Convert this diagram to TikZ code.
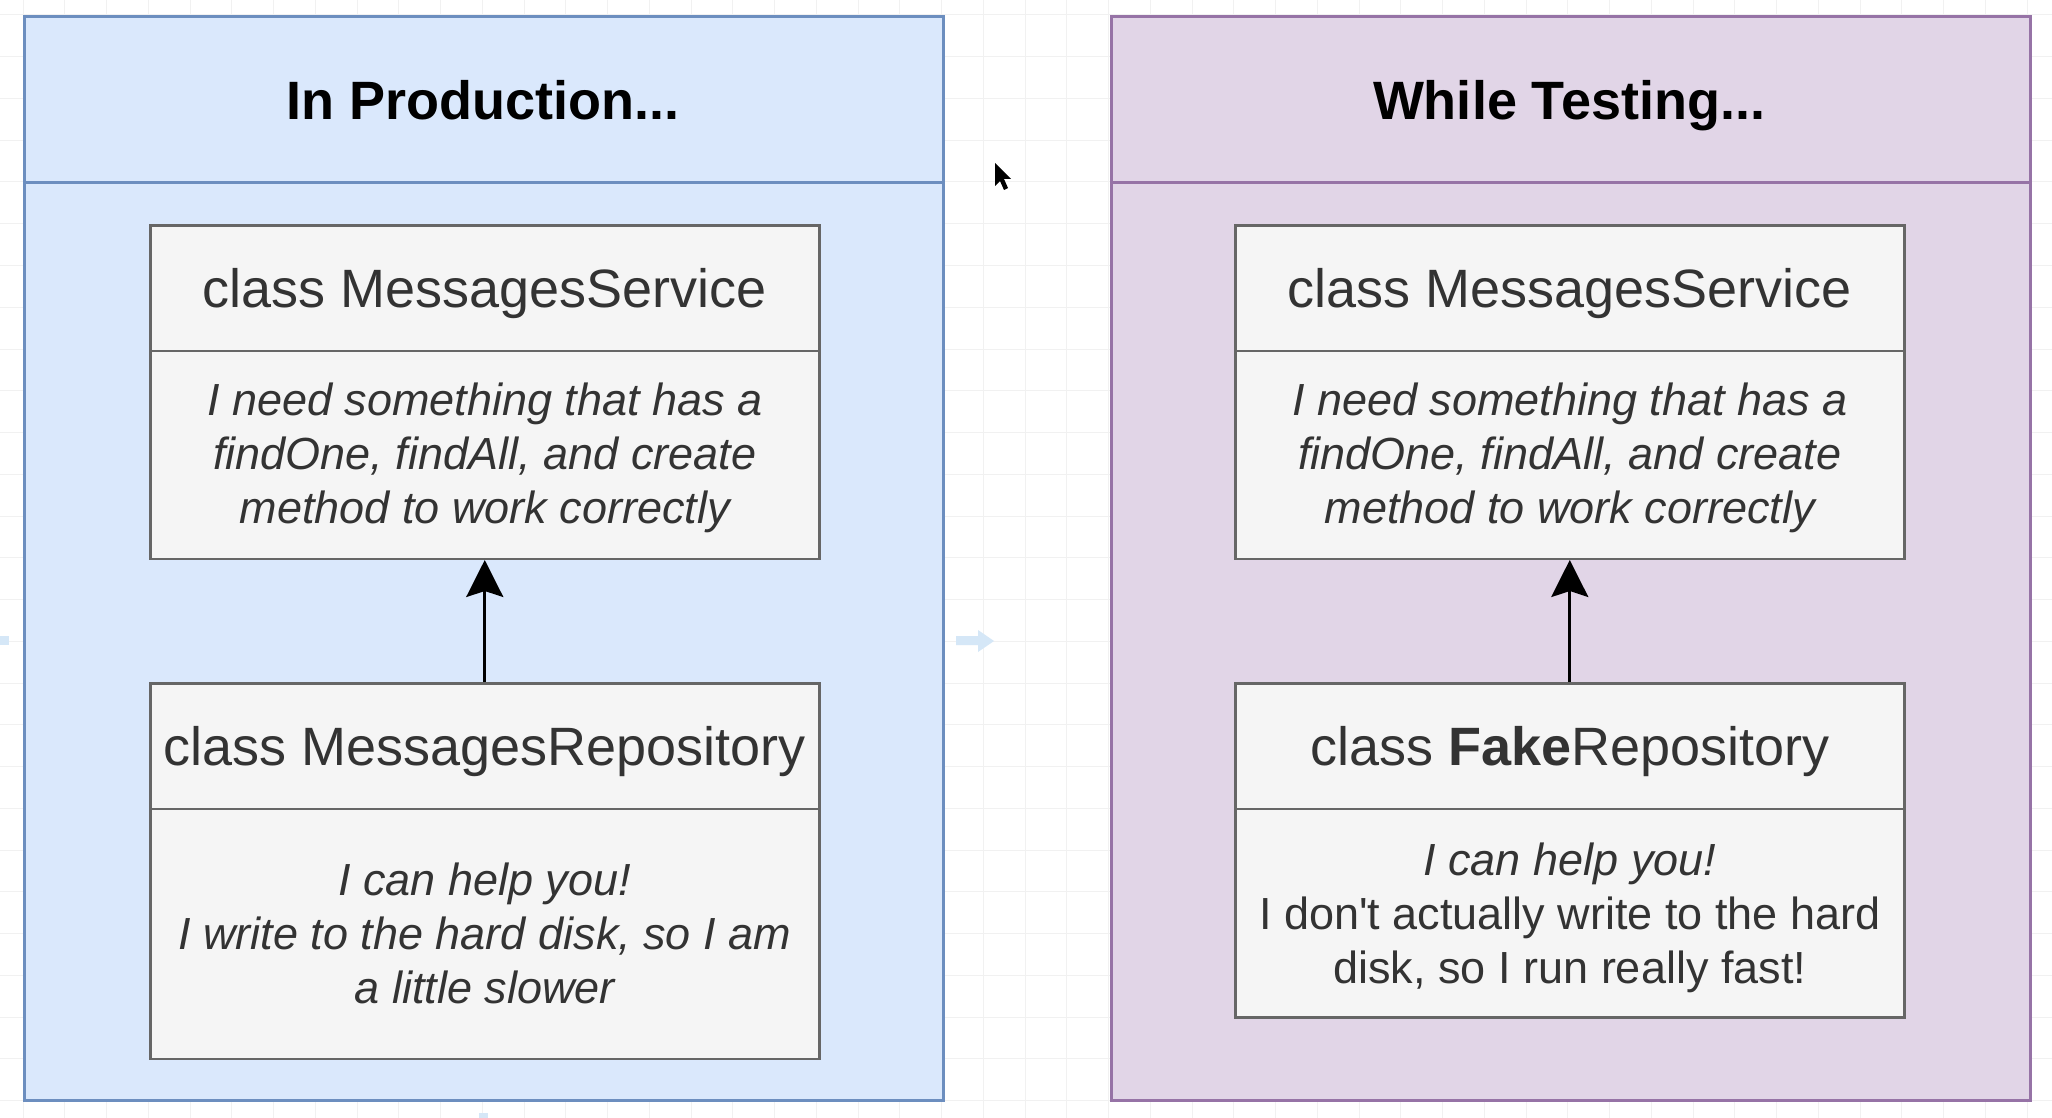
\documentclass[tikz,border=0pt]{standalone}
\usepackage{fontspec}
\setmainfont{Liberation Sans}[Ligatures=TeXOff]
\usetikzlibrary{arrows.meta}
\definecolor{blueF}{HTML}{DAE8FC}
\definecolor{blueS}{HTML}{6C8EBF}
\definecolor{purpF}{HTML}{E1D5E7}
\definecolor{purpS}{HTML}{9673A6}
\definecolor{boxF}{HTML}{F5F5F5}
\definecolor{boxS}{HTML}{666666}
\definecolor{boxT}{HTML}{333333}
\definecolor{gridC}{HTML}{F1F1F1}
\definecolor{hoverC}{HTML}{D5E7F7}
\tikzset{
  panelbox/.style={rectangle, anchor=north west, inner sep=0pt, line width=2.8pt},
  bluepanel/.style={panelbox, draw=blueS, fill=blueF},
  purppanel/.style={panelbox, draw=purpS, fill=purpF},
  paneltitle/.style={font=\fontsize{54}{64}\selectfont\bfseries, text=black, anchor=base},
  classbox/.style={rectangle, anchor=north west, inner sep=0pt, draw=boxS, fill=boxF,
     line width=2.5pt, minimum width=669pt, text=boxT, align=center},
  classtitle/.style={classbox, minimum height=125.5pt, font=\fontsize{54}{64}\selectfont,
     text height=39pt, text depth=0pt},
  classbody/.style={classbox, font=\fontsize{45}{54}\selectfont},
  dep/.style={line width=3pt, draw=black, -{Stealth[length=37pt,width=37pt,inset=6pt]}},
}
\begin{document}
\begin{tikzpicture}[x=1pt,y=-1pt]
\useasboundingbox (0,0) rectangle (2052,1118);
\fill[white] (0,0) rectangle (2052,1118);
% faint canvas grid
\foreach \k in {-1,...,49} {\draw[gridC, line width=1pt] ({23+41.75*\k},0) -- ({23+41.75*\k},1118);}
\foreach \k in {-1,...,26} {\draw[gridC, line width=1pt] (0,{15+41.75*\k}) -- (2052,{15+41.75*\k});}

% hover arrows (faint)
\fill[hoverC] (956,636) -- (978,636) -- (978,630) -- (994,641) -- (978,652) -- (978,645) -- (956,645) -- cycle;
\fill[hoverC] (9,636) -- (0,636) -- (0,645) -- (9,645) -- cycle;
\fill[hoverC] (479,1113) -- (488,1113) -- (488,1118) -- (479,1118) -- cycle;

% left panel
\node[bluepanel, minimum width=919pt, minimum height=1084pt] (lpanel) at (23,15) {};
\node[bluepanel, minimum width=919pt, minimum height=166.5pt] (lhead) at (23,15) {};
\node[paneltitle] (ltitle) at (483,120) {In Production...};

\node[classtitle] (lsvc) at (149,224) {class MessagesService};
\node[classbody, minimum height=208pt, text depth=3pt] (lsvcb) at (149,349.5)
  {\itshape I need something that has a\\ \itshape findOne, findAll, and create\\ \itshape method to work correctly};
\node[classtitle] (lrepo) at (149,682) {class MessagesRepository};
\node[classbody, minimum height=250pt] (lrepob) at (149,807.5)
  {\itshape I can help you!\\ \itshape I write to the hard disk, so I am\\ \itshape a little slower};
\draw[dep] (lrepo.north) -- (lsvcb.south);

% right panel
\node[purppanel, minimum width=919pt, minimum height=1084pt] (rpanel) at (1110,15) {};
\node[purppanel, minimum width=919pt, minimum height=166.5pt] (rhead) at (1110,15) {};
\node[paneltitle] (rtitle) at (1569,120) {While Testing...};

\node[classtitle] (rsvc) at (1234,224) {class MessagesService};
\node[classbody, minimum height=208pt, text depth=3pt] (rsvcb) at (1234,349.5)
  {\itshape I need something that has a\\ \itshape findOne, findAll, and create\\ \itshape method to work correctly};
\node[classtitle] (rrepo) at (1234,682) {class \textbf{Fake}Repository};
\node[classbody, minimum height=208.5pt, text depth=0pt] (rrepob) at (1234,807.5)
  {\itshape I can help you!\\ I don't actually write to the hard\\ disk, so I run really fast!};
\draw[dep] (rrepo.north) -- (rsvcb.south);

% mouse cursor
\fill[black] (995,163) -- (995,186) -- (1000,181) -- (1004,190) -- (1008,188) -- (1004,179) -- (1011,179) -- cycle;
\end{tikzpicture}
\end{document}
